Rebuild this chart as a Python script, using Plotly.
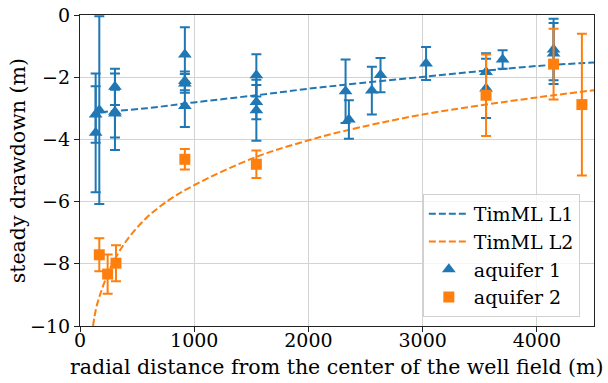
import plotly.graph_objects as go

# TimML model curves
l1_r = [100, 175, 583, 1000, 1544, 2000, 2300, 3000, 4000, 4500]
l1_h = [-3.22, -3.14, -3.00, -2.81, -2.58, -2.37, -2.25, -1.99, -1.64, -1.53]
l2_r = [114, 140, 175, 230, 291, 408, 583, 787, 1000, 1544, 2000, 2300, 3000, 4000, 4500]
l2_h = [-10.0, -9.45, -9.0, -8.45, -7.95, -7.25, -6.52, -5.93, -5.47, -4.56, -4.03,
        -3.74, -3.20, -2.65, -2.42]

# Observations aquifer 1
a1_r = [137, 137, 169, 306, 306, 306, 918, 918, 918, 918, 1544, 1544, 1544,
        2325, 2354, 2555, 2631, 3030, 3555, 3555, 3700, 4146, 4146]
a1_h = [-3.79, -3.20, -3.06, -2.31, -3.11, -3.17, -1.27, -2.12, -2.20, -2.93,
        -1.94, -2.80, -3.06, -2.45, -3.36, -2.43, -1.93, -1.56, -1.83, -2.36,
        -1.43, -1.11, -1.24]
a1_err = [1.91, 0.91, 3.02, 0.58, 1.23, 0.77, 0.88, 0.30, 0.30, 0.67,
          0.68, 0.55, 0.98, 1.02, 0.62, 0.77, 0.55, 0.53, 0.60, 0.95,
          0.30, 0.99, 0.98]

# Observations aquifer 2
a2_r = [169, 242, 315, 918, 1544, 3555, 4146, 4394]
a2_h = [-7.71, -8.33, -7.98, -4.64, -4.80, -2.58, -1.58, -2.88]
a2_err = [0.53, 0.63, 0.58, 0.33, 0.44, 1.31, 1.14, 2.28]

x_ticks = [0, 1000, 2000, 3000, 4000]
y_ticks = [0, -2, -4, -6, -8, -10]

BLUE = "#1f77b4"
ORANGE = "#ff7f0e"
FONT = "DejaVu Serif"
TICK_SIZE = 19
TITLE_SIZE = 20.5
LEGEND_SIZE = 19

fig = go.Figure()
fig.add_trace(go.Scatter(x=l1_r, y=l1_h, mode="lines", name="TimML L1",
                         line=dict(color=BLUE, width=2, dash="7px,3px", shape="spline")))
fig.add_trace(go.Scatter(x=l2_r, y=l2_h, mode="lines", name="TimML L2",
                         line=dict(color=ORANGE, width=2, dash="7px,3px", shape="spline")))
fig.add_trace(go.Scatter(x=a1_r, y=a1_h, mode="markers", name="aquifer 1",
                         marker=dict(symbol="triangle-up", size=12, color=BLUE),
                         error_y=dict(type="data", array=a1_err, color=BLUE,
                                      thickness=2, width=5)))
fig.add_trace(go.Scatter(x=a2_r, y=a2_h, mode="markers", name="aquifer 2",
                         marker=dict(symbol="square", size=11, color=ORANGE),
                         error_y=dict(type="data", array=a2_err, color=ORANGE,
                                      thickness=2, width=5)))

axis_common = dict(showline=True, linecolor="#222", linewidth=1.2, mirror=True,
                   ticks="outside", ticklen=5, tickcolor="#222", automargin=False,
                   showgrid=True, gridcolor="#d3d3d3", gridwidth=1, zeroline=False,
                   ticklabeloverflow="allow",
                   tickfont=dict(family=FONT, size=TICK_SIZE, color="black"))

fig.update_xaxes(range=[0, 4500], tickvals=x_ticks, ticklabelstandoff=-8, **axis_common)
fig.update_yaxes(range=[-10, 0], tickvals=y_ticks, **axis_common)

fig.add_annotation(text="radial distance from the center of the well field (m)",
                   xref="paper", yref="paper", x=0.5, y=-0.132,
                   xanchor="center", yanchor="middle", showarrow=False,
                   font=dict(family=FONT, size=TITLE_SIZE, color="black"))
fig.add_annotation(text="steady drawdown (m)", textangle=-90,
                   xref="paper", yref="paper", x=-0.121, y=0.5,
                   xanchor="center", yanchor="middle", showarrow=False,
                   font=dict(family=FONT, size=TITLE_SIZE, color="black"))

fig.update_layout(
    width=608, height=383,
    margin=dict(l=80, r=14, t=15, b=57),
    plot_bgcolor="white", paper_bgcolor="white",
    font=dict(family=FONT, size=TICK_SIZE, color="black"),
    legend=dict(x=0.667, y=0.029, xanchor="left", yanchor="bottom",
                bgcolor="rgba(255,255,255,0.8)", bordercolor="#d0d0d0", borderwidth=1,
                font=dict(family=FONT, size=LEGEND_SIZE, color="black"),
                tracegroupgap=0, itemwidth=40),
    showlegend=True,
)

fig.write_html("out.html", config={"displayModeBar": False},
               post_script="document.body.style.margin='0';")
